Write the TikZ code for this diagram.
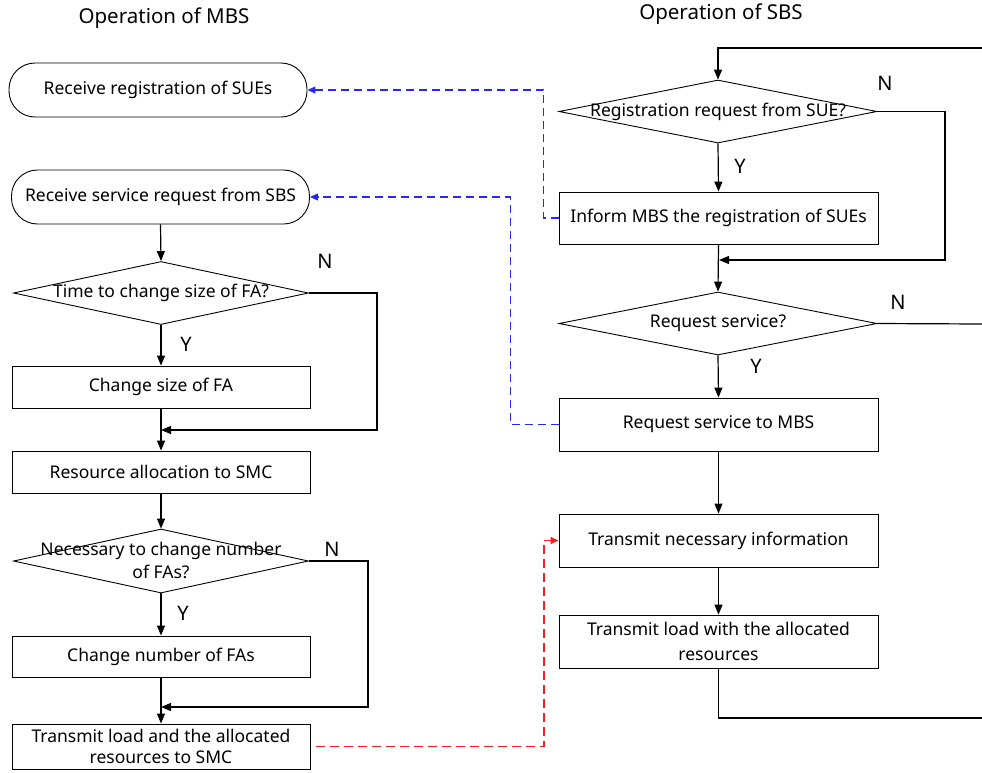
\documentclass[tikz,border=0pt]{standalone}
\usepackage{fontspec}
\setmainfont{Noto Sans}
\usetikzlibrary{arrows.meta,shapes.geometric}
\definecolor{linkblue}{RGB}{40,40,245}
\definecolor{linkred}{RGB}{245,30,30}
\begin{document}
\begin{tikzpicture}[x=1pt,y=-1pt,
  every node/.style={font=\fontsize{17.5}{22}\selectfont, inner sep=0pt},
  term/.style={draw, line width=0.9pt, rounded corners=26pt, minimum width=298pt, minimum height=54pt},
  procL/.style={draw, line width=0.9pt, minimum width=298pt, minimum height=42pt, align=center},
  procR/.style={draw, line width=0.9pt, minimum width=319pt, minimum height=53pt, align=center},
  decL/.style={draw, line width=0.9pt, diamond, aspect=4.7, minimum width=295pt, minimum height=63pt},
  decR/.style={draw, line width=0.9pt, diamond, aspect=5, minimum width=318pt, minimum height=63pt},
  yn/.style={font=\fontsize{20}{22}\selectfont},
  title/.style={font=\fontsize{20.5}{24}\selectfont},
  flow/.style={line width=1.2pt, -{Triangle[length=10pt,width=8pt]}},
  plain/.style={line width=1.2pt},
  msgblue/.style={linkblue, line width=1.1pt, dash pattern=on 8pt off 5pt, -{Triangle[length=8pt,width=7pt]}},
  msgred/.style={linkred, line width=1.3pt, dash pattern=on 9pt off 5pt, -{Triangle[length=8pt,width=7pt]}}
]
\useasboundingbox (0,0) rectangle (982,772);

% column titles
\node[title] (tmbs) at (164,18) {Operation of MBS};
\node[title] (tsbs) at (721,14) {Operation of SBS};

% ---- MBS side ----
\node[term] (t1) at (158,90) {Receive registration of SUEs};
\node[term] (t2) at (160.5,197) {Receive service request from SBS};
\node[decL] (d1) at (161,293) {};
\node (d1t) at (161,293) {Time to change size of FA?};
\node[procL] (b1) at (161,387) {Change size of FA};
\node[procL] (b2) at (161,472) {Resource allocation to SMC};
\node[decL, minimum height=64pt] (d2) at (161,561) {};
\node[align=center, font=\fontsize{17.5}{23}\selectfont] (d2t) at (161,560) {Necessary to change number\\of FAs?};
\node[procL, minimum height=41pt] (b3) at (161,656.5) {Change number of FAs};
\node[procL, minimum height=45pt, font=\fontsize{17.5}{21.5}\selectfont] (b4) at (161,746.5) {Transmit load and the allocated\\resources to SMC};

\coordinate (m1) at (161,430);
\coordinate (m2) at (161,707);

\draw[flow] (t2.south) -- (d1.north);
\draw[flow] (d1.south) -- (b1.north);
\draw[flow] (b1.south) -- (b2.north);
\draw[flow] (d1.east) -- (377,293) |- (m1);
\draw[flow] (b2.south) -- (d2.north);
\draw[flow] (d2.south) -- (b3.north);
\draw[flow] (b3.south) -- (b4.north);
\draw[flow] (d2.east) -- (368,561) |- (m2);

\node[yn] (n1) at (325,261) {N};
\node[yn] (y1) at (186,344) {Y};
\node[yn] (n2) at (332,549) {N};
\node[yn] (y2) at (183,613) {Y};

% ---- SBS side ----
\coordinate (loopin) at (982,48);
\coordinate (skipout) at (982,324);
\coordinate (loopout) at (982,718);
\coordinate (m3) at (719,260);

\node[decR] (d3) at (718,111.5) {};
\node (d3t) at (718,111.5) {Registration request from SUE?};
\node[procR, minimum height=52pt] (b5) at (718.5,218) {Inform MBS the registration of SUEs};
\node[decR] (d4) at (718,323.5) {};
\node (d4t) at (718,323.5) {Request service?};
\node[procR] (b6) at (718.5,424.5) {Request service to MBS};
\node[procR] (b7) at (718.5,540.5) {Transmit necessary information};
\node[procR, font=\fontsize{17.5}{25}\selectfont] (b8) at (718.5,641.5) {Transmit load with the allocated\\resources};

\draw[flow] (loopin) -| (d3.north);
\draw[flow] (d3.south) -- (b5.north);
\draw[flow] (d3.east) -- (945,111.5) |- (m3);
\draw[flow] (b5.south) -- (d4.north);
\draw[plain] (d4.east) -- (skipout);
\draw[flow] (d4.south) -- (b6.north);
\draw[flow] (b6.south) -- (b7.north);
\draw[flow] (b7.south) -- (b8.north);
\draw[plain] (b8.south) |- (loopout);

\node[yn] (n3) at (885,83) {N};
\node[yn] (y3) at (740,166) {Y};
\node[yn] (n4) at (898,302) {N};
\node[yn] (y4) at (756,366) {Y};

% ---- messages between the stations ----
\draw[msgblue] (b5.west) -- ++(-15,0) |- (t1.east);
\draw[msgblue] (b6.west) -- ++(-48,0) |- (t2.east);
\draw[msgred, shorten <=6pt] (b4.east) -- (544,746.5) |- (b7.west);
\end{tikzpicture}
\end{document}
